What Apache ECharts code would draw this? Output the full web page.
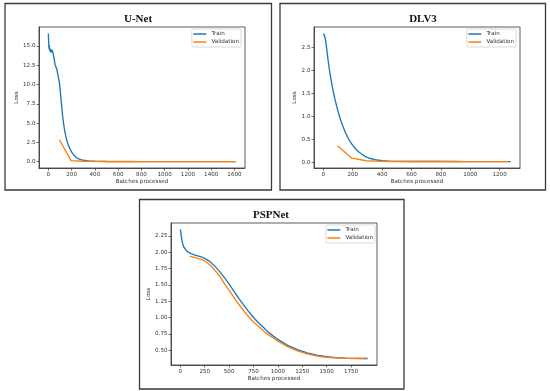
<!DOCTYPE html>
<html>
<head>
<meta charset="utf-8">
<script src="https://cdn.jsdelivr.net/npm/echarts@6/dist/echarts.min.js"></script>
<style>
html,body{margin:0;padding:0;background:#fff;}
#chart{width:550px;height:391px;}
</style>
</head>
<body>
<div id="chart"></div>
<script>
// ---------- Data ----------
const titles = ['U-Net', 'DLV3', 'PSPNet'];
const seriesNames = ['Train', 'Validation'];

const unetTrainX = [0,2,4,6,8,10,13,16,19,22,25,28,31,34,38,42,46,50,54,58,62,66,72,80,88,95,102,110,118,126,134,142,150,160,170,185,200,220,240,260,280,300,330,360,400,450,500,600,800,1000,1200,1400,1610];
const unetTrainY = [16.6,15.6,15.0,14.6,15.1,14.7,14.3,14.6,14.2,14.5,14.1,14.5,14.3,14.4,14.2,13.9,13.6,13.3,12.9,12.5,12.6,12.3,12.0,11.4,10.8,10.2,9.2,7.9,6.6,5.5,4.6,3.9,3.3,2.7,2.2,1.7,1.25,0.85,0.55,0.38,0.27,0.2,0.13,0.09,0.06,0.04,0.03,0.025,0.022,0.021,0.02,0.02,0.02];
const unetValX = [95,195,295,395,495,595,695,795,895,995,1095,1195,1295,1395,1495,1610];
const unetValY = [2.85,0.15,0.07,0.045,0.035,0.03,0.027,0.025,0.024,0.023,0.022,0.021,0.021,0.02,0.02,0.02];

const dlv3TrainX = [0,5,10,15,20,25,30,40,50,60,70,80,90,100,110,120,135,150,165,180,200,220,240,262,290,320,354,400,450,500,600,800,1000,1275];
const dlv3TrainY = [2.81,2.79,2.74,2.66,2.55,2.42,2.28,2.04,1.84,1.66,1.5,1.36,1.23,1.11,1.0,0.9,0.77,0.65,0.55,0.46,0.37,0.29,0.23,0.175,0.12,0.083,0.057,0.036,0.026,0.021,0.018,0.017,0.016,0.016];
const dlv3ValX = [97,194,291,388,485,582,679,776,873,970,1067,1164,1261];
const dlv3ValY = [0.36,0.09,0.035,0.022,0.019,0.018,0.017,0.017,0.017,0.016,0.016,0.016,0.016];

const pspTrainX = [0,8,16,24,35,45,58,80,110,150,213,250,300,350,400,450,500,550,600,650,700,750,800,850,900,950,1000,1100,1200,1300,1400,1500,1600,1700,1800,1920];
const pspTrainY = [2.347,2.26,2.18,2.13,2.08,2.05,2.03,2.0,1.977,1.955,1.927,1.905,1.86,1.79,1.71,1.615,1.51,1.40,1.29,1.19,1.09,1.0,0.92,0.85,0.78,0.72,0.665,0.575,0.51,0.46,0.425,0.4,0.387,0.379,0.376,0.374];
const pspValX = [93,150,213,250,282,320,351,400,455,500,558,610,661,715,765,820,868,920,960,1000,1100,1200,1300,1400,1500,1600,1700,1800,1900];
const pspValY = [1.94,1.915,1.89,1.865,1.83,1.78,1.725,1.64,1.51,1.415,1.29,1.18,1.08,0.985,0.91,0.84,0.775,0.72,0.68,0.64,0.555,0.49,0.445,0.412,0.392,0.381,0.376,0.374,0.373];

// Tick labels
const unetXTicks = [0,200,400,600,800,1000,1200,1400,1600];
const unetYTicks = [0,2.5,5,7.5,10,12.5,15];
const dlv3XTicks = [0,200,400,600,800,1000,1200];
const dlv3YTicks = [0,0.5,1,1.5,2,2.5];
const pspXTicks = [0,250,500,750,1000,1250,1500,1750];
const pspYTicks = [0.5,0.75,1,1.25,1.5,1.75,2,2.25];

// ---------- Helpers ----------
const zip = (xs, ys) => xs.map((x, i) => [x, ys[i]]);
function padRange(xs, frac) {
  const mn = Math.min(...xs), mx = Math.max(...xs), r = mx - mn;
  return [mn - r * frac, mx + r * frac];
}
const allUnetX = unetTrainX.concat(unetValX), allUnetY = unetTrainY.concat(unetValY);
const allDlvX = dlv3TrainX.concat(dlv3ValX), allDlvY = dlv3TrainY.concat(dlv3ValY);
const allPspX = pspTrainX.concat(pspValX), allPspY = pspTrainY.concat(pspValY);
const ranges = [
  [padRange(allUnetX, 0.05), padRange(allUnetY, 0.05)],
  [padRange(allDlvX, 0.05), padRange(allDlvY, 0.05)],
  [padRange(allPspX, 0.05), padRange(allPspY, 0.05)]
];
const xTicks = [unetXTicks, dlv3XTicks, pspXTicks];
const yTicks = [unetYTicks, dlv3YTicks, pspYTicks];
const yDec = [1, 1, 2];

const TXT = '#333';
const FONT = 'DejaVu Sans';
const FS = 5.6;
const BLUE = '#1f77b4', ORANGE = '#ff7f0e';

const grids = [
  {left: 39, top: 27, width: 206, height: 141},
  {left: 314, top: 27, width: 206, height: 141},
  {left: 171, top: 223, width: 206, height: 142}
];
const yNameGap = [18, 16, 19.5];
const xNameGap = [11, 11, 10.5];

const xAxes = [], yAxes = [];
for (let i = 0; i < 3; i++) {
  xAxes.push({
    type: 'value', gridIndex: i, min: ranges[i][0][0], max: ranges[i][0][1],
    name: 'Batches processed', nameLocation: 'middle', nameGap: xNameGap[i],
    nameTextStyle: {fontSize: FS, color: TXT, fontFamily: FONT},
    axisLine: {show: true, onZero: false, lineStyle: {color: '#333', width: 0.8}},
    axisTick: {show: true, inside: false, length: 2.5, customValues: xTicks[i], lineStyle: {color: '#333', width: 0.7}},
    axisLabel: {fontSize: FS, color: TXT, fontFamily: FONT, margin: 3.5, customValues: xTicks[i], formatter: v => String(Math.round(v))},
    splitLine: {show: false}
  });
  yAxes.push({
    type: 'value', gridIndex: i, min: ranges[i][1][0], max: ranges[i][1][1],
    name: 'Loss', nameLocation: 'middle', nameGap: yNameGap[i],
    nameTextStyle: {fontSize: FS, color: TXT, fontFamily: FONT},
    axisLine: {show: true, onZero: false, lineStyle: {color: '#333', width: 0.8}},
    axisTick: {show: true, inside: false, length: 2.5, customValues: yTicks[i], lineStyle: {color: '#333', width: 0.7}},
    axisLabel: {fontSize: FS, color: TXT, fontFamily: FONT, margin: 3.5, customValues: yTicks[i], formatter: v => v.toFixed(yDec[i])},
    splitLine: {show: false}
  });
}

const lineSeries = (name, data, idx, color) => ({
  name, type: 'line', xAxisIndex: idx, yAxisIndex: idx, data,
  showSymbol: false, symbol: 'none', smooth: false, animation: false,
  lineStyle: {color, width: 1.35}, itemStyle: {color}
});

const series = [
  lineSeries(seriesNames[0], zip(unetTrainX, unetTrainY), 0, BLUE),
  lineSeries(seriesNames[1], zip(unetValX, unetValY), 0, ORANGE),
  lineSeries(seriesNames[0], zip(dlv3TrainX, dlv3TrainY), 1, BLUE),
  lineSeries(seriesNames[1], zip(dlv3ValX, dlv3ValY), 1, ORANGE),
  lineSeries(seriesNames[0], zip(pspTrainX, pspTrainY), 2, BLUE),
  lineSeries(seriesNames[1], zip(pspValX, pspValY), 2, ORANGE)
];

const legendPos = [{right: 309, top: 29}, {right: 34, top: 29}, {right: 175, top: 225}];
const legends = legendPos.map(p => Object.assign({
  data: seriesNames, orient: 'vertical', icon: 'rect', itemWidth: 13, itemHeight: 1.5,
  itemGap: 1, itemTextGap: 3, padding: [1.5, 2, 1.5, 1.5],
  borderColor: '#cfcfcf', borderWidth: 0.8, borderRadius: 1.5, backgroundColor: '#fff',
  selectedMode: false,
  textStyle: {fontSize: FS, color: TXT, fontFamily: FONT, lineHeight: 7}
}, p));

const titlePos = [{left: 138, top: 13.5}, {left: 423, top: 13.5}, {left: 271, top: 210}];
const titleComps = titles.map((t, i) => Object.assign({
  text: t, textAlign: 'center', padding: 0,
  textStyle: {fontFamily: 'Liberation Serif', fontWeight: 'bold', fontSize: 11, color: '#111'}
}, titlePos[i]));

const boxes = [
  {x: 5, y: 3.5, width: 266.5, height: 186.5},
  {x: 280, y: 3.5, width: 265.5, height: 186.5},
  {x: 139.5, y: 199.5, width: 264.5, height: 189.5}
];

const chart = echarts.init(document.getElementById('chart'), null, {renderer: 'canvas'});
chart.setOption({
  backgroundColor: '#fff',
  animation: false,
  title: titleComps,
  legend: legends,
  grid: grids.map(g => Object.assign({show: true, borderColor: '#333', borderWidth: 0.8, backgroundColor: '#fff', containLabel: false}, g)),
  xAxis: xAxes,
  yAxis: yAxes,
  series,
  graphic: boxes.map(b => ({
    type: 'rect', shape: b, silent: true, z: 100,
    style: {fill: 'none', stroke: '#3a3a3a', lineWidth: 1.3}
  }))
});
</script>
</body>
</html>
